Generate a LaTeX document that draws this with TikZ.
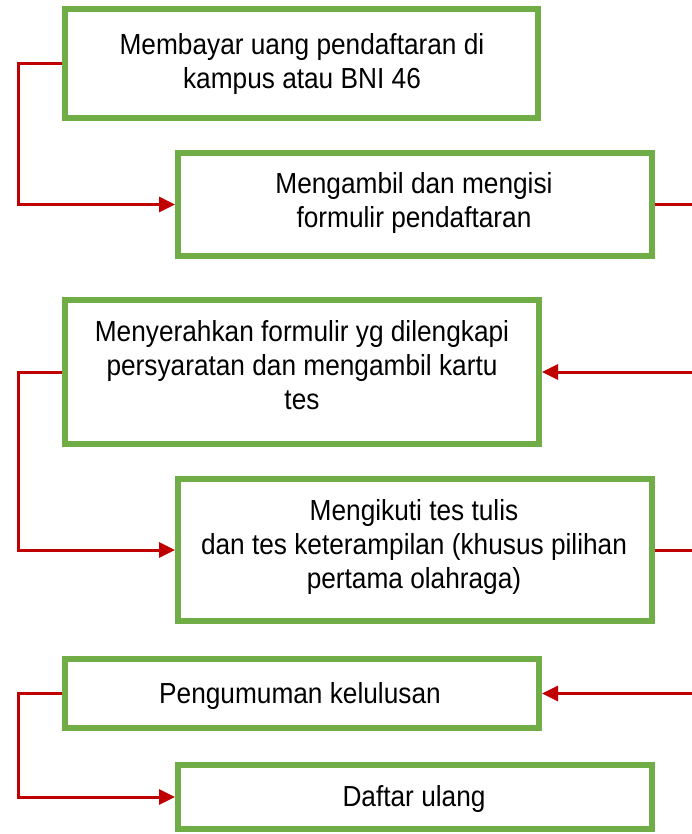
\documentclass[tikz,border=0pt]{standalone}
\usepackage{fontspec}
\setmainfont{Liberation Sans}[FakeStretch=0.905]
\usetikzlibrary{arrows.meta}
\definecolor{boxgreen}{HTML}{70AD47}
\definecolor{linered}{HTML}{C00000}
\begin{document}
\begin{tikzpicture}[x=1pt,y=-1pt,
  box/.style={draw=boxgreen,line width=6pt,fill=white,inner sep=0pt},
  txt/.style={align=center,inner sep=0pt,text=black,font=\fontsize{29pt}{34pt}\selectfont},
  conn/.style={draw=linered,line width=3pt},
  arr/.style={conn,-{Triangle[length=16pt,width=15pt]}}]
\useasboundingbox[fill=white] (0,0) rectangle (691,834);
% boxes
\node[box,minimum width=473pt,minimum height=109pt] (b1) at (301.5,63.5) {};
\node[box,minimum width=474pt,minimum height=103pt] (b2) at (415,204.5) {};
\node[box,minimum width=474pt,minimum height=144pt] (b3) at (302,372) {};
\node[box,minimum width=474pt,minimum height=142pt] (b4) at (415,550) {};
\node[box,minimum width=474pt,minimum height=69pt] (b5) at (302,693.5) {};
\node[box,minimum width=474pt,minimum height=64pt] (b6) at (415,797) {};
% texts
\node[txt] (t1) at (302,64.9) {\strut Membayar uang pendaftaran di\\\strut kampus atau BNI 46};
\node[txt] (t2) at (414,204.2) {\strut Mengambil dan mengisi\\\strut formulir pendaftaran};
\node[txt] (t3) at (302,369) {\strut Menyerahkan formulir yg dilengkapi\\\strut persyaratan dan mengambil kartu\\\strut tes};
\node[txt] (t4) at (414,547.5) {\strut Mengikuti tes tulis\\\strut dan tes keterampilan (khusus pilihan\\\strut pertama olahraga)};
\node[txt] (t5) at (300,696.2) {\strut Pengumuman kelulusan};
\node[txt] (t6) at (414,800) {\strut Daftar ulang};
% helper coordinates for the rails
\coordinate (L) at (18,0);
\coordinate (R) at (693,0);
% left connectors
\draw[arr] (b1.west) -- (b1.west -| L) |- (b2.west);
\draw[arr] (b3.west) -- (b3.west -| L) |- (b4.west);
\draw[arr] (b5.west) -- (b5.west -| L) |- (b6.west);
% right connectors
\draw[conn] (b2.east) -- (b2.east -| R);
\draw[arr] (b3.east -| R) -- (b3.east);
\draw[conn] (b4.east) -- (b4.east -| R);
\draw[arr] (b5.east -| R) -- (b5.east);
\end{tikzpicture}
\end{document}
